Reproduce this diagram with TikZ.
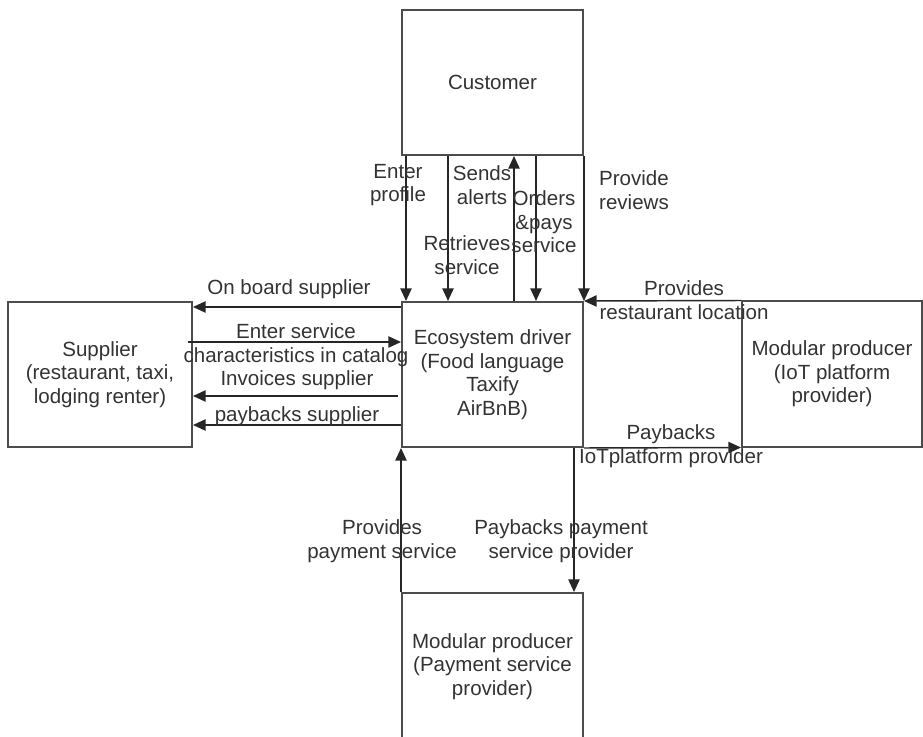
\documentclass[tikz,border=0pt]{standalone}
\usepackage{fontspec}
\setmainfont{Liberation Sans}
\usetikzlibrary{arrows.meta,calc}

\tikzset{every picture/.style={line width=0.75pt}}
\tikzset{
  box/.style={draw=black!70, line width=1.5pt, fill=white, inner sep=0pt,
    align=center, text=black!80, minimum width=135.75pt, minimum height=108.75pt},
  flow/.style={draw=black!85, line width=1.1pt, -{Triangle[length=9.5pt,width=8.5pt]}},
  lbl/.style={inner sep=0pt, align=center, text=black!80}
}

\begin{document}
\begin{tikzpicture}[x=0.75pt,y=0.75pt,yscale=-1,xscale=1,
    font=\fontsize{15.4pt}{17.6pt}\selectfont]
    \useasboundingbox (0,0) rectangle (923,737);
    \clip (0,0) rectangle (923,737);

    %Shape: Rectangle [customer]
    \node[box] (customer) at (492.5,82.5) {Customer};
    %Shape: Rectangle [driver]
    \node[box] (driver) at (492.5,374.5) {Ecosystem driver\\(Food language\\Taxify\\AirBnB)};
    %Shape: Rectangle [supplier]
    \node[box, minimum width=138pt] (supplier) at (100,374.5) {Supplier\\(restaurant, taxi,\\lodging renter)};
    %Shape: Rectangle [iot]
    \node[box, minimum width=135pt] (iot) at (832,374) {Modular producer\\(IoT platform\\provider)};
    %Shape: Rectangle [payment]
    \node[box, minimum height=110.25pt] (payment) at (492.5,666.5) {Modular producer\\(Payment service\\provider)};

    %Straight Lines [customer - driver]
    \draw[flow] ($(customer.south west)+(5,0)$) -- ($(driver.north west)+(5,0)$);
    \draw[flow] ($(customer.south west)+(47,0)$) -- ($(driver.north west)+(47,0)$);
    \draw[flow] ($(driver.north west)+(113,0)$) -- ($(customer.south west)+(113,0)$);
    \draw[flow] ($(customer.south west)+(135,0)$) -- ($(driver.north west)+(135,0)$);
    \draw[flow] (customer.south east) -- (driver.north east);
    %Straight Lines [driver - iot]
    \draw[flow] (iot.north west) -- (driver.north east);
    \draw[flow] (driver.south east) -- (iot.south west);
    %Straight Lines [driver - payment]
    \draw[flow] (payment.north west) -- (driver.south west);
    \draw[flow] ($(driver.south east)+(-10,0)$) -- ($(payment.north east)+(-10,0)$);
    %Straight Lines [driver - supplier]
    \draw[flow] ($(driver.north west)+(0,6)$) -- ($(supplier.north east)+(0,6)$);
    \draw[flow] ($(supplier.north east)+(-5,41)$) -- ($(driver.north west)+(0,41)$);
    \draw[flow] ($(driver.north west)+(-3,95)$) -- ($(supplier.north east)+(0,95)$);
    \draw[flow] ($(driver.north west)+(0,124)$) -- ($(supplier.north east)+(0,124)$);

    % Text Node
    \node[lbl] (lprofile) at (398,185) {Enter\\profile};
    % Text Node
    \node[lbl] (lalerts) at (482,185) {Sends\\alerts};
    % Text Node
    \node[lbl] (lretrieves) at (467,255) {Retrieves\\service};
    % Text Node
    \node[lbl] (lorders) at (544,222) {Orders\\\&pays\\service};
    % Text Node
    \node[lbl] (lreviews) at (634,190) {Provide\\reviews};
    % Text Node
    \node[lbl] (llocation) at (684,300) {Provides\\restaurant location};
    % Text Node
    \node[lbl] (lonboard) at (289,289) {On board supplier};
    % Text Node
    \node[lbl] (lenter) at (296,345) {Enter service\\characteristics in catalog};
    % Text Node
    \node[lbl] (linvoices) at (297,380) {Invoices supplier};
    % Text Node
    \node[lbl] (lpaysup) at (297,416) {paybacks supplier};
    % Text Node
    \node[lbl] (lpayiot) at (671,446) {Paybacks\\IoTplatform provider};
    % Text Node
    \node[lbl] (lpaysvc) at (382,541) {Provides\\payment service};
    % Text Node
    \node[lbl] (lpaypay) at (561,541) {Paybacks payment\\service provider};

\end{tikzpicture}
\end{document}
